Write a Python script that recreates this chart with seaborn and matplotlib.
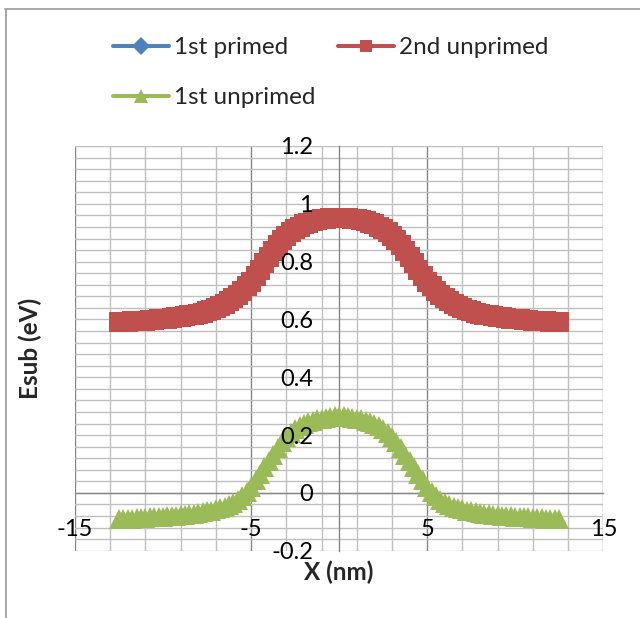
import numpy as np
import matplotlib
matplotlib.use("Agg")
import matplotlib.pyplot as plt
import seaborn as sns
from matplotlib.ticker import MultipleLocator, FuncFormatter
from matplotlib.lines import Line2D

# ---- data: subband energies along the channel ----
x_nm = np.linspace(-12.5, 12.5, 101)

unprimed_2nd = [
    0.591, 0.591, 0.592, 0.593, 0.594, 0.595, 0.596, 0.597, 0.598, 0.600, 0.601,
    0.603, 0.605, 0.607, 0.609, 0.611, 0.614, 0.617, 0.620, 0.624, 0.628, 0.634, 0.640,
    0.647, 0.655, 0.664, 0.674, 0.686, 0.699, 0.714, 0.730, 0.750, 0.772, 0.795, 0.817,
    0.838, 0.857, 0.874, 0.889, 0.901, 0.912, 0.921, 0.929, 0.935, 0.940, 0.944, 0.947,
    0.949, 0.951, 0.952, 0.952, 0.952, 0.951, 0.949,
    0.947, 0.944, 0.940, 0.935, 0.929, 0.921, 0.912, 0.901, 0.889, 0.874, 0.857, 0.838,
    0.817, 0.795, 0.772, 0.750, 0.730, 0.714, 0.699, 0.686, 0.674, 0.664, 0.655, 0.647,
    0.640, 0.634, 0.628, 0.624, 0.620, 0.617, 0.614, 0.611, 0.609, 0.607, 0.605, 0.603,
    0.601, 0.600, 0.598, 0.597, 0.596, 0.595, 0.594, 0.593, 0.592, 0.591, 0.591,
]

unprimed_1st = [
    -0.091, -0.091, -0.090, -0.089, -0.088, -0.087, -0.086, -0.085, -0.084, -0.083, -0.082,
    -0.081, -0.080, -0.079, -0.078, -0.076, -0.074, -0.072, -0.070, -0.067, -0.064, -0.061, -0.057,
    -0.053, -0.049, -0.043, -0.036, -0.025, -0.012, 0.004, 0.022, 0.043, 0.065, 0.088, 0.110,
    0.132, 0.154, 0.175, 0.194, 0.208, 0.220, 0.230, 0.239, 0.245, 0.250, 0.254, 0.257,
    0.260, 0.263, 0.265, 0.266, 0.265, 0.263, 0.260,
    0.257, 0.254, 0.250, 0.245, 0.239, 0.230, 0.220, 0.208, 0.194, 0.175, 0.154, 0.132,
    0.110, 0.088, 0.065, 0.043, 0.022, 0.004, -0.012, -0.025, -0.036, -0.043, -0.049, -0.053,
    -0.057, -0.061, -0.064, -0.067, -0.070, -0.072, -0.074, -0.076, -0.078, -0.079, -0.080, -0.081,
    -0.082, -0.083, -0.084, -0.085, -0.086, -0.087, -0.088, -0.089, -0.090, -0.091, -0.091,
]

# the 1st primed subband coincides with the 2nd unprimed one
primed_1st = list(unprimed_2nd)

series_names = ["1st primed", "2nd unprimed", "1st unprimed"]
series_colors = ["#4F81BD", "#C0504D", "#9BBB59"]

# ---- style ----
sns.set_style("white")
plt.rcParams["font.family"] = ["Lato", "DejaVu Sans"]
plt.rcParams["axes.unicode_minus"] = False

W, H = 640, 618
fig = plt.figure(figsize=(W / 100, H / 100), dpi=100)
rect = [75 / W, 1 - 550.7 / H, 528.3 / W, 404.7 / H]

# background axes: gridlines, axis lines and tick marks
ax_bg = fig.add_axes(rect, zorder=0)
# foreground axes: data and tick labels
ax = fig.add_axes(rect, zorder=1)
ax.patch.set_alpha(0)

for a in (ax_bg, ax):
    a.set_xlim(-15, 15)
    a.set_ylim(-0.2, 1.2)
    a.xaxis.set_major_locator(MultipleLocator(10, offset=5))
    a.yaxis.set_major_locator(MultipleLocator(0.2))

ax_bg.xaxis.set_minor_locator(MultipleLocator(2, offset=1))
ax_bg.yaxis.set_minor_locator(MultipleLocator(0.04))
ax_bg.grid(which="major", axis="x", color="#868686", lw=1.0)
ax_bg.grid(which="minor", axis="x", color="#BFBFBF", lw=1.0)
ax_bg.grid(which="both", axis="y", color="#BFBFBF", lw=1.0)
for t in (ax_bg.xaxis.get_major_ticks() + ax_bg.xaxis.get_minor_ticks()
          + ax_bg.yaxis.get_major_ticks() + ax_bg.yaxis.get_minor_ticks()):
    t.gridline.set_clip_on(False)

for s in ("top", "right"):
    ax_bg.spines[s].set_visible(False)
for s in ("left", "bottom"):
    ax_bg.spines[s].set_position(("data", 0))
    ax_bg.spines[s].set_color("#868686")
    ax_bg.spines[s].set_linewidth(1.0)
ax_bg.tick_params(which="major", direction="out", length=4.3, width=1.0, color="#868686",
                  labelleft=False, labelbottom=False)
ax_bg.tick_params(which="minor", length=0)

# ---- series ----
sns.lineplot(x=x_nm, y=primed_1st, ax=ax, color=series_colors[0], marker="D",
             markersize=9.5, markeredgewidth=0, linewidth=2.9, sort=False, legend=False)
sns.lineplot(x=x_nm, y=unprimed_2nd, ax=ax, color=series_colors[1], marker="s",
             markersize=14.4, markeredgewidth=0, linewidth=2.9, sort=False, legend=False)
sns.lineplot(x=x_nm, y=unprimed_1st, ax=ax, color=series_colors[2], marker="^",
             markersize=13.7, markeredgewidth=0, linewidth=2.9, sort=False, legend=False)

# ---- tick labels on the axes crossing at the origin ----
for s in ax.spines.values():
    s.set_visible(False)
ax.spines["left"].set_position(("data", 0))
ax.spines["bottom"].set_position(("data", 0))
ax.set_axisbelow(False)
fmt = FuncFormatter(lambda v, p: f"{round(v, 2) + 0.0:g}")
ax.xaxis.set_major_formatter(fmt)
ax.yaxis.set_major_formatter(fmt)
ax.tick_params(axis="y", length=0, pad=18.7, labelsize=17, labelcolor="black")
ax.tick_params(axis="x", length=0, pad=19.0, labelsize=17, labelcolor="black")

ax.set_xlabel("X (nm)", fontsize=17.5, fontweight="bold")
ax.set_ylabel("Esub (eV)", fontsize=17.5, fontweight="bold")
ax.xaxis.set_label_coords(0.5, -0.025)
ax.yaxis.set_label_coords(-0.063, 0.5)

# ---- legend ----
handles = [
    Line2D([], [], color=series_colors[0], lw=2.9, marker="D", markersize=9,
           markeredgewidth=0, solid_capstyle="round"),
    Line2D([], [], color=series_colors[2], lw=2.9, marker="^", markersize=10,
           markeredgewidth=0, solid_capstyle="round"),
    Line2D([], [], color=series_colors[1], lw=2.9, marker="s", markersize=9,
           markeredgewidth=0, solid_capstyle="round"),
]
labels = [series_names[0], series_names[2], series_names[1]]
fig.legend(handles, labels, ncol=2, loc="upper left",
           bbox_to_anchor=(113 / W, 1 - 37 / H), frameon=False, fontsize=17.5,
           handlelength=2.3, handletextpad=0.2, columnspacing=0.95,
           labelspacing=1.2, borderpad=0, borderaxespad=0)

# ---- chart-area frame ----
frame_kw = dict(transform=fig.transFigure, color="#A0A0A0", lw=1.3)
fig.add_artist(Line2D([5.5 / W, 5.5 / W], [0, 1 - 8.5 / H], **frame_kw))
fig.add_artist(Line2D([5 / W, 1], [1 - 8.5 / H, 1 - 8.5 / H], **frame_kw))

fig.savefig("out.png", dpi=100)
